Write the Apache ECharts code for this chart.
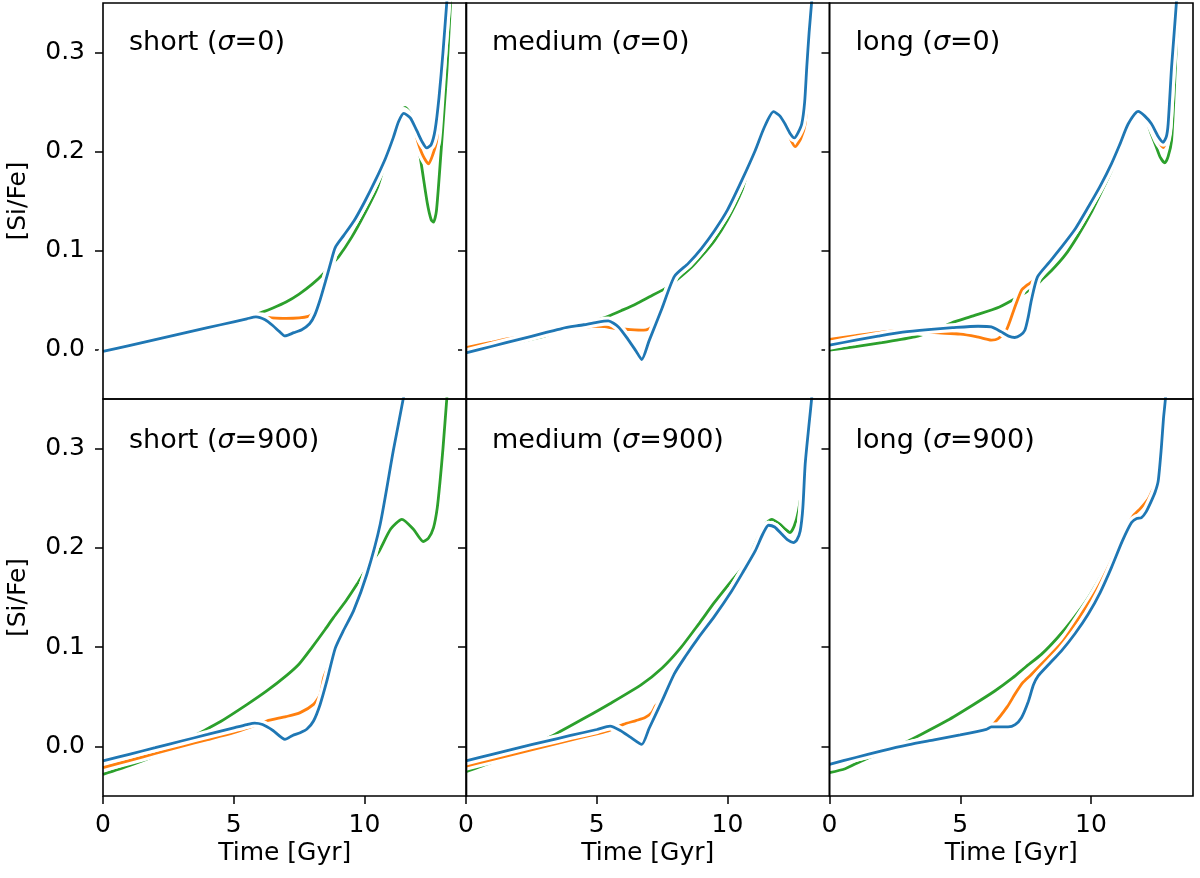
<!DOCTYPE html>
<html>
<head>
<meta charset="utf-8">
<script src="https://cdn.jsdelivr.net/npm/echarts@6/dist/echarts.min.js"></script>
<style>html,body{margin:0;padding:0;background:#fff}#c{width:1200px;height:878px}</style>
</head>
<body>
<div id="c"></div>
<script>
// ---------- data (Time [Gyr] vs [Si/Fe]) ----------
const panelTitles = [['short', '0'], ['medium', '0'], ['long', '0'], ['short', '900'], ['medium', '900'], ['long', '900']];
const xTicks = [0, 5, 10];
const yTicks = [0.0, 0.1, 0.2, 0.3];

// short (sigma=0)
const p1_blue_x = [0, 1, 2, 3, 4, 5, 5.5, 5.85, 6.2, 6.5, 6.75, 6.96, 7.3, 7.6, 7.9, 8.1, 8.3, 8.5, 8.7, 8.88, 9.2, 9.6, 10.0, 10.4, 10.8, 11.1, 11.3, 11.5, 11.75, 12.0, 12.2, 12.38, 12.55, 12.7, 12.85, 13.0, 13.15, 13.3];
const p1_blue_y = [-0.002, 0.004, 0.010, 0.016, 0.022, 0.028, 0.031, 0.033, 0.030, 0.024, 0.018, 0.0137, 0.017, 0.020, 0.026, 0.035, 0.050, 0.068, 0.087, 0.103, 0.115, 0.130, 0.149, 0.170, 0.193, 0.214, 0.230, 0.2385, 0.234, 0.221, 0.210, 0.2036, 0.207, 0.222, 0.255, 0.30, 0.352, 0.40];
const p1_green_x = [0, 1, 2, 3, 4, 5, 5.5, 5.94, 6.5, 7.0, 7.5, 8.0, 8.43, 8.7, 9.0, 9.5, 10.0, 10.5, 10.8, 11.1, 11.35, 11.55, 11.8, 12.0, 12.19, 12.4, 12.55, 12.64, 12.75, 12.9, 13.05, 13.15, 13.25, 13.35];
const p1_green_y = [-0.003, 0.003, 0.009, 0.0135, 0.021, 0.0275, 0.031, 0.036, 0.042, 0.048, 0.056, 0.066, 0.0766, 0.085, 0.0934, 0.113, 0.137, 0.164, 0.19, 0.218, 0.238, 0.2446, 0.236, 0.215, 0.184, 0.148, 0.131, 0.1287, 0.14, 0.19, 0.245, 0.2816, 0.33, 0.38];
const p1_orange_x = [0, 1, 2, 3, 4, 5, 5.5, 5.85, 6.1, 6.45, 7.0, 7.5, 7.85, 8.0, 8.15, 8.3, 8.5, 8.7, 8.88, 9.2, 9.6, 10.0, 10.4, 10.8, 11.1, 11.3, 11.5, 11.8, 12.06, 12.25, 12.45, 12.6, 12.76, 12.9, 13.0, 13.15, 13.3];
const p1_orange_y = [-0.002, 0.004, 0.010, 0.016, 0.022, 0.028, 0.031, 0.033, 0.0328, 0.032, 0.0315, 0.032, 0.0335, 0.036, 0.042, 0.051, 0.068, 0.087, 0.103, 0.115, 0.130, 0.149, 0.170, 0.193, 0.214, 0.230, 0.2405, 0.232, 0.208, 0.195, 0.1875, 0.196, 0.211, 0.26, 0.30, 0.352, 0.40];

// medium (sigma=0)
const p2_blue_x = [0, 1, 2, 3, 3.66, 4.5, 5.0, 5.44, 5.83, 6.2, 6.5, 6.72, 7.0, 7.5, 7.97, 8.5, 9.0, 9.5, 10.0, 10.55, 11.06, 11.4, 11.76, 12.0, 12.2, 12.4, 12.56, 12.7, 12.84, 12.95, 13.03, 13.12, 13.22, 13.35];
const p2_blue_y = [-0.0034, 0.0033, 0.010, 0.0167, 0.0212, 0.025, 0.0275, 0.0289, 0.0228, 0.010, -0.0015, -0.0101, 0.0087, 0.042, 0.0739, 0.087, 0.102, 0.120, 0.141, 0.171, 0.201, 0.224, 0.2402, 0.236, 0.2278, 0.218, 0.2137, 0.219, 0.228, 0.25, 0.285, 0.32, 0.352, 0.40];
const p2_green_x = [0, 1, 2, 3, 4, 4.8, 5.44, 6.0, 6.5, 7.0, 7.61, 8.0, 8.63, 9.0, 9.5, 10.0, 10.55, 10.8, 11.06, 11.4, 11.76, 12.0, 12.2, 12.4, 12.56, 12.7, 12.84, 12.95, 13.03, 13.12, 13.22, 13.35];
const p2_green_y = [-0.005, 0.0015, 0.0075, 0.0135, 0.022, 0.028, 0.0336, 0.040, 0.046, 0.053, 0.0615, 0.069, 0.0833, 0.094, 0.110, 0.131, 0.1606, 0.182, 0.200, 0.224, 0.2402, 0.236, 0.2278, 0.218, 0.2137, 0.219, 0.228, 0.25, 0.285, 0.32, 0.352, 0.40];
const p2_orange_x = [0, 1, 1.62, 2.5, 3.5, 4.5, 4.93, 5.3, 5.7, 6.3, 6.8, 7.0, 7.15, 7.3, 7.5, 7.97, 8.5, 9.0, 9.5, 10.0, 10.55, 11.06, 11.4, 11.76, 12.0, 12.2, 12.4, 12.59, 12.8, 12.97, 13.08, 13.15, 13.22, 13.35];
const p2_orange_y = [0.002, 0.0075, 0.011, 0.0145, 0.0195, 0.0225, 0.0235, 0.023, 0.0212, 0.020, 0.0195, 0.021, 0.024, 0.030, 0.042, 0.0739, 0.087, 0.102, 0.120, 0.141, 0.171, 0.201, 0.224, 0.2402, 0.236, 0.2278, 0.213, 0.205, 0.213, 0.228, 0.27, 0.30, 0.33, 0.39];

// long (sigma=0)
const p3_blue_x = [0, 1, 1.86, 2.8, 3.77, 4.7, 5.68, 6.19, 6.57, 6.85, 7.08, 7.3, 7.47, 7.6, 7.72, 7.95, 8.4, 8.87, 9.4, 9.89, 10.35, 10.78, 11.1, 11.42, 11.8, 12.05, 12.31, 12.55, 12.76, 12.88, 12.95, 13.08, 13.18, 13.27, 13.4];
const p3_blue_y = [0.0043, 0.0095, 0.0135, 0.0175, 0.0201, 0.022, 0.0235, 0.0228, 0.0178, 0.0135, 0.0121, 0.0145, 0.0195, 0.033, 0.0497, 0.0732, 0.088, 0.1034, 0.122, 0.1437, 0.165, 0.1875, 0.207, 0.2278, 0.2405, 0.236, 0.228, 0.216, 0.2093, 0.215, 0.228, 0.285, 0.32, 0.352, 0.40];
const p3_green_x = [0, 1, 2, 3.26, 4.0, 4.66, 5.5, 6.5, 7.21, 7.7, 7.95, 8.1, 8.5, 9.0, 9.5, 10.0, 10.5, 10.78, 11.1, 11.42, 11.8, 12.05, 12.3, 12.5, 12.65, 12.82, 12.95, 13.08, 13.2, 13.3, 13.4];
const p3_green_y = [-0.0007, 0.003, 0.007, 0.0127, 0.019, 0.0268, 0.034, 0.043, 0.053, 0.061, 0.066, 0.0699, 0.080, 0.095, 0.115, 0.138, 0.165, 0.1807, 0.203, 0.226, 0.243, 0.236, 0.218, 0.2042, 0.194, 0.1885, 0.195, 0.211, 0.27, 0.33, 0.38];
const p3_orange_x = [0, 1, 1.98, 3.0, 4.02, 5.0, 5.6, 6.0, 6.19, 6.45, 6.76, 7.05, 7.34, 7.55, 7.72, 7.95, 8.4, 8.87, 9.4, 9.89, 10.35, 10.78, 11.1, 11.42, 11.8, 12.05, 12.31, 12.55, 12.76, 12.88, 12.95, 13.08, 13.18, 13.27, 13.4];
const p3_orange_y = [0.0101, 0.014, 0.0175, 0.0195, 0.017, 0.0155, 0.013, 0.0105, 0.0094, 0.011, 0.0195, 0.040, 0.0598, 0.065, 0.068, 0.0732, 0.088, 0.1034, 0.122, 0.1437, 0.165, 0.1875, 0.207, 0.2278, 0.2405, 0.236, 0.226, 0.212, 0.204, 0.212, 0.225, 0.285, 0.32, 0.352, 0.40];

// short (sigma=900)
const p4_blue_x = [0, 1, 2, 3, 4, 5, 5.5, 5.8, 6.1, 6.5, 6.96, 7.25, 7.54, 7.8, 8.05, 8.3, 8.56, 8.88, 9.2, 9.58, 10.09, 10.6, 11.1, 11.49, 11.8];
const p4_blue_y = [-0.0147, -0.008, -0.0013, 0.0054, 0.012, 0.0187, 0.022, 0.0235, 0.022, 0.016, 0.0071, 0.011, 0.0138, 0.0175, 0.0256, 0.042, 0.0659, 0.0988, 0.117, 0.1365, 0.1734, 0.2238, 0.2978, 0.3515, 0.40];
const p4_green_x = [0, 1, 2, 3, 3.71, 4.5, 5.5, 6.26, 7.0, 7.5, 8.0, 8.5, 8.81, 9.3, 9.71, 10.1, 10.53, 11.0, 11.43, 11.87, 12.25, 12.45, 12.64, 12.78, 12.89, 13.0, 13.15, 13.3];
const p4_green_y = [-0.0282, -0.0195, -0.0095, 0.004, 0.0138, 0.025, 0.042, 0.0558, 0.071, 0.083, 0.100, 0.118, 0.1297, 0.147, 0.1633, 0.18, 0.1953, 0.219, 0.2288, 0.2188, 0.2064, 0.21, 0.2205, 0.24, 0.2675, 0.30, 0.3515, 0.40];
const p4_orange_x = [0, 1, 2, 3, 4, 5, 5.6, 6.26, 7.0, 7.54, 8.05, 8.3, 8.44, 8.6, 8.75, 8.88, 9.2, 9.58, 10.09, 10.6, 11.1, 11.49, 11.8];
const p4_orange_y = [-0.0215, -0.0143, -0.0072, 0.000, 0.0068, 0.0138, 0.019, 0.0256, 0.030, 0.034, 0.0423, 0.052, 0.0692, 0.080, 0.090, 0.0988, 0.117, 0.1365, 0.1734, 0.2238, 0.2978, 0.3515, 0.40];

// medium (sigma=900)
const p5_blue_x = [0, 1, 2, 3, 4, 5, 5.51, 5.9, 6.3, 6.72, 7.0, 7.5, 7.97, 8.4, 8.89, 9.5, 10.16, 10.6, 11.06, 11.35, 11.57, 11.8, 12.08, 12.3, 12.52, 12.65, 12.78, 12.88, 12.97, 13.1, 13.22, 13.35];
const p5_blue_y = [-0.0147, -0.008, -0.0015, 0.0048, 0.011, 0.017, 0.0205, 0.016, 0.009, 0.002, 0.018, 0.046, 0.0733, 0.091, 0.1096, 0.131, 0.1566, 0.176, 0.197, 0.214, 0.2228, 0.221, 0.2137, 0.208, 0.2053, 0.208, 0.2171, 0.24, 0.2843, 0.32, 0.3515, 0.40];
const p5_green_x = [0, 1, 2, 3, 3.4, 4.5, 5.5, 6.72, 7.5, 8.2, 8.89, 9.5, 10.1, 10.67, 11.2, 11.45, 11.69, 12.0, 12.2, 12.39, 12.55, 12.71, 12.85, 13.0, 13.15, 13.3];
const p5_green_y = [-0.0255, -0.016, -0.005, 0.007, 0.0121, 0.028, 0.043, 0.0625, 0.079, 0.099, 0.123, 0.145, 0.165, 0.1835, 0.212, 0.224, 0.2288, 0.224, 0.219, 0.2154, 0.222, 0.237, 0.262, 0.31, 0.36, 0.40];
const p5_orange_x = [0, 1, 2, 3, 4, 5, 5.44, 6.02, 6.5, 6.85, 7.1, 7.25, 7.5, 7.97, 8.4, 8.89, 9.5, 10.16, 10.6, 11.06, 11.35, 11.57, 11.8, 12.08, 12.3, 12.52, 12.65, 12.78, 12.88, 12.97, 13.1, 13.22, 13.35];
const p5_orange_y = [-0.0198, -0.0133, -0.0068, -0.0003, 0.0062, 0.0127, 0.0155, 0.0222, 0.026, 0.029, 0.034, 0.041, 0.047, 0.0733, 0.091, 0.1096, 0.131, 0.1566, 0.176, 0.197, 0.214, 0.2228, 0.221, 0.2137, 0.208, 0.2053, 0.208, 0.2171, 0.24, 0.2843, 0.32, 0.3515, 0.40];

// long (sigma=900)
const p6_blue_x = [0, 1, 2, 3, 4, 5, 6, 6.19, 6.5, 6.83, 7.1, 7.34, 7.6, 7.8, 7.98, 8.4, 8.87, 9.4, 9.89, 10.35, 10.78, 11.2, 11.55, 11.75, 11.93, 12.1, 12.31, 12.45, 12.57, 12.69, 12.77, 12.85, 12.95];
const p6_blue_y = [-0.0181, -0.0112, -0.0045, 0.0015, 0.0065, 0.0115, 0.0172, 0.0196, 0.0197, 0.0196, 0.022, 0.0289, 0.045, 0.062, 0.071, 0.083, 0.0962, 0.114, 0.1331, 0.155, 0.1801, 0.207, 0.2255, 0.2295, 0.2305, 0.236, 0.2474, 0.256, 0.2675, 0.3011, 0.33, 0.3515, 0.40];
const p6_green_x = [0, 0.6, 1.0, 1.5, 2.0, 2.62, 3.5, 4.5, 5.5, 6.32, 7.0, 7.5, 8.1, 8.7, 9.3, 9.9, 10.53, 10.8, 11.1, 11.45, 11.61, 11.9, 12.18, 12.35, 12.45, 12.57, 12.69, 12.77, 12.85, 12.95];
const p6_green_y = [-0.0265, -0.0225, -0.0175, -0.0115, -0.0065, 0.0004, 0.012, 0.026, 0.042, 0.0558, 0.069, 0.080, 0.0927, 0.109, 0.128, 0.15, 0.1785, 0.193, 0.208, 0.225, 0.2322, 0.240, 0.249, 0.258, 0.262, 0.2675, 0.3011, 0.33, 0.3515, 0.40];
const p6_orange_x = [0, 1, 2, 3, 4, 5, 6, 6.32, 6.8, 7.1, 7.39, 7.7, 8.1, 8.9, 9.63, 10.2, 10.65, 11.1, 11.45, 11.61, 11.9, 12.18, 12.35, 12.45, 12.57, 12.69, 12.77, 12.85, 12.95];
const p6_orange_y = [-0.0181, -0.0112, -0.0045, 0.0015, 0.0065, 0.0115, 0.0172, 0.0239, 0.040, 0.053, 0.0642, 0.072, 0.0827, 0.105, 0.133, 0.157, 0.180, 0.206, 0.225, 0.2322, 0.240, 0.249, 0.258, 0.262, 0.2675, 0.3011, 0.33, 0.3515, 0.40];

// ---------- chart ----------
const COLORS = { green: '#2ca02c', orange: '#ff7f0e', blue: '#1f77b4' };
const FONT = 'DejaVu Sans';
const panels = [
  { green: [p1_green_x, p1_green_y], orange: [p1_orange_x, p1_orange_y], blue: [p1_blue_x, p1_blue_y] },
  { green: [p2_green_x, p2_green_y], orange: [p2_orange_x, p2_orange_y], blue: [p2_blue_x, p2_blue_y] },
  { green: [p3_green_x, p3_green_y], orange: [p3_orange_x, p3_orange_y], blue: [p3_blue_x, p3_blue_y] },
  { green: [p4_green_x, p4_green_y], orange: [p4_orange_x, p4_orange_y], blue: [p4_blue_x, p4_blue_y] },
  { green: [p5_green_x, p5_green_y], orange: [p5_orange_x, p5_orange_y], blue: [p5_blue_x, p5_blue_y] },
  { green: [p6_green_x, p6_green_y], orange: [p6_orange_x, p6_orange_y], blue: [p6_blue_x, p6_blue_y] }
];

const colLeft = [103, 466, 829.5];
const colW = 363.5;
const rowTop = [3, 399];
const rowH = [396, 397];

const grids = [], xAxes = [], yAxes = [], series = [], titles = [];
for (let i = 0; i < 6; i++) {
  const r = Math.floor(i / 3), c = i % 3;
  grids.push({
    left: colLeft[c], top: rowTop[r], width: colW, height: rowH[r],
    show: true, z: 10, backgroundColor: 'transparent', borderColor: '#000', borderWidth: 1.6
  });
  const bottomRow = r === 1, firstCol = c === 0;
  xAxes.push({
    type: 'value', gridIndex: i, min: 0, max: 13.9, position: 'bottom',
    axisLine: { show: false, onZero: false },
    splitLine: { show: false },
    axisTick: { show: bottomRow, length: 8, lineStyle: { color: '#000', width: 1.5 }, customValues: xTicks },
    axisLabel: { show: bottomRow, customValues: xTicks, margin: 17, color: '#000', fontFamily: FONT, fontSize: 25 },
    name: bottomRow ? 'Time [Gyr]' : '', nameLocation: 'middle', nameGap: 45,
    nameTextStyle: { color: '#000', fontFamily: FONT, fontSize: 25 }
  });
  yAxes.push({
    type: 'value', gridIndex: i, min: -0.05, max: 0.35, position: 'left',
    axisLine: { show: false, onZero: false },
    splitLine: { show: false },
    axisTick: { show: true, length: 8, lineStyle: { color: '#000', width: 1.5 }, customValues: yTicks },
    axisLabel: { show: firstCol, customValues: yTicks, margin: 18, color: '#000', fontFamily: FONT, fontSize: 25,
      formatter: v => v.toFixed(1) },
    name: firstCol ? '[Si/Fe]' : '', nameLocation: 'middle', nameGap: 72,
    nameTextStyle: { color: '#000', fontFamily: FONT, fontSize: 25 }
  });
  const t = panelTitles[i];
  titles.push({
    text: '{n|' + t[0] + ' (}{i|σ}{n|=' + t[1] + ')}',
    left: colLeft[c] + 26, top: rowTop[r] + 26 + (r === 1 ? 2 : 0),
    padding: 0,
    textStyle: {
      fontWeight: 'normal',
      rich: {
        n: { fontFamily: FONT, fontSize: 27, fontWeight: 'normal', color: '#000' },
        i: { fontFamily: FONT, fontSize: 27, fontWeight: 'normal', fontStyle: 'italic', color: '#000' }
      }
    }
  });
  ['green', 'orange', 'blue'].forEach(name => {
    const xs = panels[i][name][0], ys = panels[i][name][1];
    const data = xs.map((x, k) => [x, ys[k]]);
    series.push({
      type: 'line', xAxisIndex: i, yAxisIndex: i, data, symbol: 'none', smooth: 0.22,
      silent: true, animation: false, lineStyle: { color: '#fff', width: 9, cap: 'round' }
    });
    series.push({
      type: 'line', xAxisIndex: i, yAxisIndex: i, data, symbol: 'none', smooth: 0.22,
      silent: true, animation: false, lineStyle: { color: COLORS[name], width: 2.8 }
    });
  });
}

const chart = echarts.init(document.getElementById('c'), null, { renderer: 'canvas' });
chart.setOption({
  backgroundColor: '#fff',
  animation: false,
  title: titles,
  grid: grids,
  xAxis: xAxes,
  yAxis: yAxes,
  series
});
</script>
</body>
</html>
